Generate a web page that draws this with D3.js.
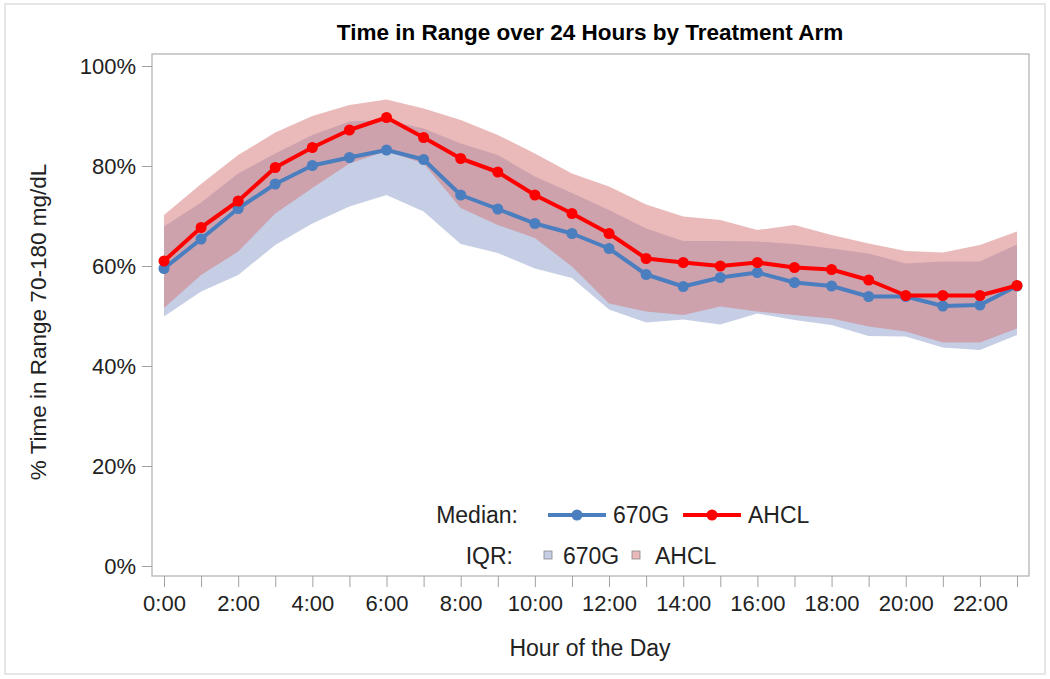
<!DOCTYPE html>
<html>
<head>
<meta charset="utf-8">
<script src="https://cdn.jsdelivr.net/npm/d3@7"></script>
<style>
  html, body { margin: 0; padding: 0; background: #fff; }
  svg { display: block; font-family: "Liberation Sans", Arial, sans-serif; }
</style>
</head>
<body>
<svg id="chart" width="1050" height="679"></svg>
<script>
const hours = d3.range(0, 24);
const xTickHours = [0, 2, 4, 6, 8, 10, 12, 14, 16, 18, 20, 22];
const xTickLabels = ["0:00","2:00","4:00","6:00","8:00","10:00","12:00","14:00","16:00","18:00","20:00","22:00"];
const yTicks = [0, 20, 40, 60, 80, 100];

const median670G = [59.5, 65.4, 71.5, 76.4, 80.1, 81.7, 83.2, 81.3, 74.2, 71.4, 68.5, 66.5,
                    63.5, 58.3, 55.9, 57.7, 58.7, 56.7, 56.0, 53.9, 53.9, 52.0, 52.2, 56.0];
const medianAHCL = [61.0, 67.7, 73.0, 79.7, 83.7, 87.2, 89.7, 85.7, 81.5, 78.8, 74.2, 70.5,
                    66.5, 61.5, 60.7, 60.0, 60.7, 59.7, 59.3, 57.2, 54.1, 54.1, 54.1, 56.1];
const q1_670G = [49.9, 54.9, 58.2, 64.2, 68.5, 71.9, 74.2, 70.9, 64.4, 62.6, 59.5, 57.6,
                 51.3, 48.7, 49.3, 48.3, 50.5, 49.2, 48.2, 46.0, 45.9, 43.7, 43.2, 46.2];
const q3_670G = [67.9, 72.7, 78.5, 82.5, 86.2, 88.9, 89.2, 87.5, 84.5, 82.2, 77.9, 74.6,
                 71.2, 67.5, 65.0, 65.0, 64.9, 64.4, 63.5, 62.5, 60.5, 60.9, 60.9, 64.3];
const q1_AHCL = [51.6, 58.2, 62.9, 70.5, 75.6, 80.5, 83.0, 80.5, 71.6, 68.2, 65.6, 59.9,
                 52.5, 50.9, 50.2, 51.9, 50.9, 50.2, 49.5, 47.9, 46.9, 44.7, 44.7, 47.5];
const q3_AHCL = [70.2, 76.4, 82.2, 86.7, 90.0, 92.2, 93.3, 91.5, 89.2, 86.2, 82.5, 78.5,
                 75.9, 72.3, 69.9, 69.2, 67.2, 68.2, 66.2, 64.5, 63.0, 62.7, 64.2, 66.9];

const seriesNames = ["670G", "AHCL"];
const lineColors = { "670G": "#4a7ebf", "AHCL": "#ff0000" };
const bandColors = { "670G": "rgb(140,158,204)", "AHCL": "rgb(214,118,118)" };

const svg = d3.select("#chart");
const W = 1050, H = 679;

// outer light border
svg.append("rect").attr("x", 5).attr("y", 4).attr("width", 1040).attr("height", 670)
  .attr("fill", "#fff").attr("stroke", "#e6e6e6").attr("stroke-width", 2);

const frame = { left: 152, right: 1029, top: 54, bottom: 576 };
const x = d3.scaleLinear().domain([0, 23]).range([164, 1017]);
const y = d3.scaleLinear().domain([0, 100]).range([566, 66]);

// title
svg.append("text").attr("x", 590).attr("y", 40).attr("text-anchor", "middle")
  .attr("font-weight", "bold").attr("font-size", 22.5).attr("fill", "#000")
  .text("Time in Range over 24 Hours by Treatment Arm");

// bands
const area = (lo, hi) => d3.area().x((d, i) => x(hours[i])).y0((d, i) => y(lo[i])).y1((d, i) => y(hi[i]));
svg.append("path").attr("d", area(q1_670G, q3_670G)(hours))
  .attr("fill", bandColors["670G"]).attr("fill-opacity", 0.5);
svg.append("path").attr("d", area(q1_AHCL, q3_AHCL)(hours))
  .attr("fill", bandColors["AHCL"]).attr("fill-opacity", 0.5);

// median lines
const line = vals => d3.line().x((d, i) => x(hours[i])).y((d, i) => y(vals[i]))(hours);
[["670G", median670G], ["AHCL", medianAHCL]].forEach(([name, vals]) => {
  svg.append("path").attr("d", line(vals)).attr("fill", "none")
    .attr("stroke", lineColors[name]).attr("stroke-width", 4).attr("stroke-linejoin", "round");
  svg.append("g").selectAll("circle").data(vals).join("circle")
    .attr("cx", (d, i) => x(hours[i])).attr("cy", d => y(d)).attr("r", 5.5)
    .attr("fill", lineColors[name]);
});

// frame
svg.append("rect").attr("x", frame.left).attr("y", frame.top)
  .attr("width", frame.right - frame.left).attr("height", frame.bottom - frame.top)
  .attr("fill", "none").attr("stroke", "#b4b4b4").attr("stroke-width", 1.3);

// y axis
const yAxis = d3.axisLeft(y).tickValues(yTicks).tickFormat(d => d + "%").tickSize(10).tickPadding(6);
const gy = svg.append("g").attr("transform", `translate(${frame.left},0)`).call(yAxis);
gy.select(".domain").remove();
gy.selectAll(".tick line").attr("stroke", "#a0a0a0");
gy.selectAll(".tick text").attr("font-size", 22).attr("fill", "#222")
  .attr("font-family", "Liberation Sans, Arial, sans-serif");

// x axis
const xAxis = d3.axisBottom(x).tickValues(hours).tickSize(11).tickPadding(8)
  .tickFormat(d => { const k = xTickHours.indexOf(d); return k >= 0 ? xTickLabels[k] : ""; });
const gx = svg.append("g").attr("transform", `translate(0,${frame.bottom})`).call(xAxis);
gx.select(".domain").remove();
gx.selectAll(".tick line").attr("stroke", "#a0a0a0");
gx.selectAll(".tick text").attr("font-size", 22).attr("fill", "#222")
  .attr("font-family", "Liberation Sans, Arial, sans-serif");

// axis titles
svg.append("text").attr("x", 590).attr("y", 656).attr("text-anchor", "middle")
  .attr("font-size", 23).attr("fill", "#222").text("Hour of the Day");
svg.append("text").attr("transform", "translate(46,322) rotate(-90)").attr("text-anchor", "middle")
  .attr("font-size", 22.5).attr("fill", "#222").text("% Time in Range 70-180 mg/dL");

// legend row 1
const lg = svg.append("g").attr("font-size", 23).attr("fill", "#222");
lg.append("text").attr("x", 518).attr("y", 523).attr("text-anchor", "end").text("Median:");
const medItems = [["670G", 548], ["AHCL", 683]];
medItems.forEach(([name, x0]) => {
  lg.append("line").attr("x1", x0).attr("x2", x0 + 58).attr("y1", 515).attr("y2", 515)
    .attr("stroke", lineColors[name]).attr("stroke-width", 4);
  lg.append("circle").attr("cx", x0 + 29).attr("cy", 515).attr("r", 5.5).attr("fill", lineColors[name]);
  lg.append("text").attr("x", x0 + 65).attr("y", 523).text(name);
});
// legend row 2
lg.append("text").attr("x", 513).attr("y", 564).attr("text-anchor", "end").text("IQR:");
const iqrItems = [["670G", 544, 563], ["AHCL", 632, 655]];
iqrItems.forEach(([name, x0, tx]) => {
  lg.append("rect").attr("x", x0).attr("y", 551).attr("width", 8).attr("height", 8)
    .attr("fill", bandColors[name]).attr("fill-opacity", 0.5).attr("stroke", "#888").attr("stroke-width", 0.8);
  lg.append("text").attr("x", tx).attr("y", 564).text(name);
});
</script>
</body>
</html>
